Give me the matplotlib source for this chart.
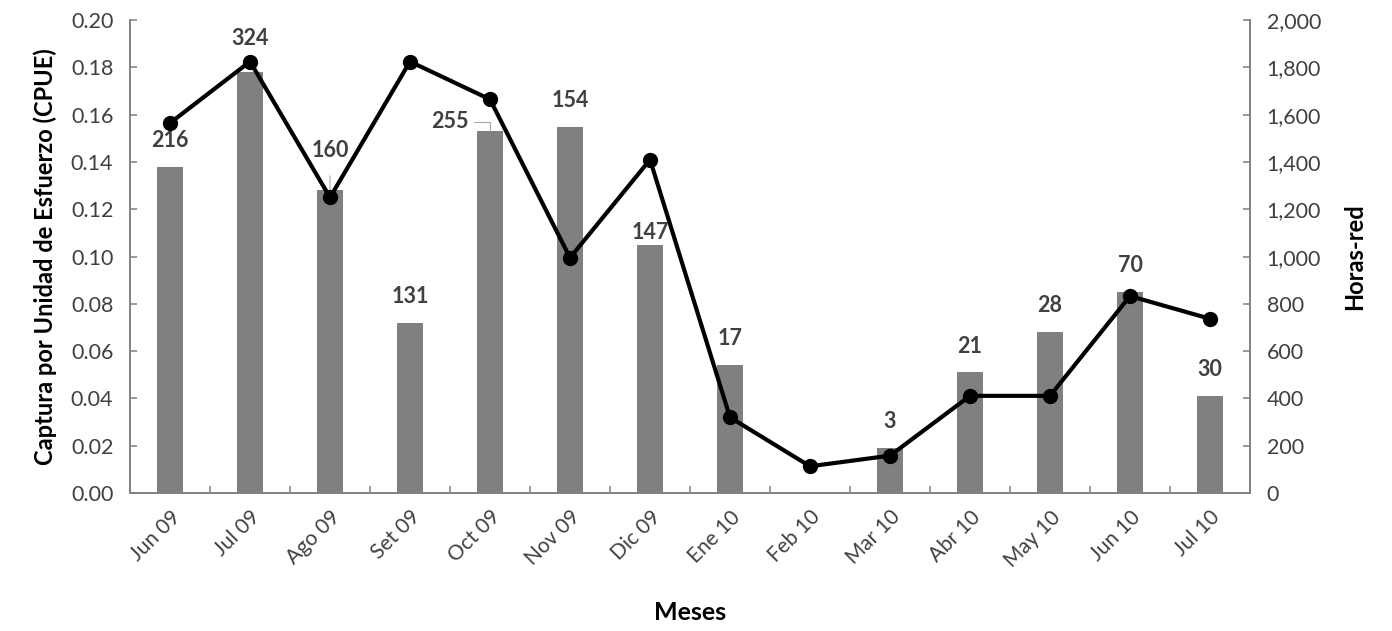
import matplotlib
matplotlib.use("Agg")
import matplotlib.pyplot as plt
from matplotlib.ticker import FuncFormatter, MultipleLocator
import numpy as np

plt.rcParams['font.family'] = ['Lato', 'DejaVu Sans']

# data
meses = ['Jun 09', 'Jul 09', 'Ago 09', 'Set 09', 'Oct 09', 'Nov 09', 'Dic 09',
         'Ene 10', 'Feb 10', 'Mar 10', 'Abr 10', 'May 10', 'Jun 10', 'Jul 10']
cpue = [0.138, 0.178, 0.128, 0.072, 0.153, 0.155, 0.105,
        0.054, 0.0, 0.019, 0.051, 0.068, 0.085, 0.041]
horas_red = [1565, 1825, 1250, 1825, 1665, 995, 1410,
             320, 113, 158, 411, 411, 833, 737]
captura = [216, 324, 160, 131, 255, 154, 147, 17, None, 3, 21, 28, 70, 30]

x = np.arange(len(meses))
grey_txt = '#404040'
spine_c = '#7f7f7f'

fig = plt.figure(figsize=(13.92, 6.31), dpi=100)
ax = fig.add_axes([0.0934, 0.2187, 0.8046, 0.7493])
ax2 = ax.twinx()

ax.bar(x, cpue, width=0.33, color='#808080', zorder=2)
ax2.plot(x, horas_red, color='black', lw=3, marker='o', markersize=10, zorder=3)

# labels above the bars (offsets in points, a few placed by hand)
offsets = {1: (0, 24), 2: (0, 29), 4: (-29, 7), 6: (0, 9)}
lab_kw = dict(textcoords='offset points', ha='center', va='center',
              fontsize=15.5, fontweight='bold', color=grey_txt)
for i, v in enumerate(captura):
    if v is None:
        continue
    dx, dy = offsets.get(i, (0, 19))
    if i == 2:
        ax.annotate(str(v), xy=(x[i], cpue[i]), xytext=(dx, dy),
                    arrowprops=dict(arrowstyle='-', color='#a6a6a6', lw=0.8, shrinkA=9, shrinkB=0),
                    **lab_kw)
    elif i == 4:
        ax.annotate(str(v), xy=(x[i], cpue[i]), xytext=(dx, dy),
                    arrowprops=dict(arrowstyle='-', color='#a6a6a6', lw=0.8, shrinkA=2, shrinkB=0,
                                    connectionstyle='angle,angleA=0,angleB=90,rad=0', relpos=(1.0, 0.5)),
                    **lab_kw)
    else:
        ax.annotate(str(v), xy=(x[i], cpue[i]), xytext=(dx, dy), **lab_kw)

ax.set_xlim(-0.5, len(meses) - 0.5)
ax.set_ylim(0, 0.2)
ax2.set_ylim(0, 2000)
ax.yaxis.set_major_locator(MultipleLocator(0.02))
ax.yaxis.set_major_formatter(FuncFormatter(lambda v, p: f'{v:.2f}'))
ax2.yaxis.set_major_locator(MultipleLocator(200))
ax2.yaxis.set_major_formatter(FuncFormatter(lambda v, p: f'{v:,.0f}'))

ax.set_xticks(x)
ax.set_xticklabels(meses, rotation=45, ha='right', rotation_mode='anchor')
ax.set_xticks(np.arange(-0.5, len(meses)), minor=True)
ax.tick_params(axis='x', which='major', length=0, pad=10, labelsize=15, labelcolor=grey_txt)
ax.tick_params(axis='x', which='minor', direction='in', length=5, color=spine_c, width=1.1)
ax.tick_params(axis='y', direction='in', length=5, color=spine_c, width=1.1,
               labelsize=15.5, labelcolor=grey_txt, pad=12)
ax2.tick_params(axis='y', direction='in', length=5, color=spine_c, width=1.1,
                labelsize=15.5, labelcolor=grey_txt, pad=12)

for a in (ax, ax2):
    a.spines['top'].set_visible(False)
    for s in ('left', 'right', 'bottom'):
        a.spines[s].set_color(spine_c)
        a.spines[s].set_linewidth(1.1)

ax.set_ylabel('Captura por Unidad de Esfuerzo (CPUE)', fontsize=17, fontweight='bold', labelpad=10)
ax2.set_ylabel('Horas-red', fontsize=17, fontweight='bold', labelpad=16)
ax.set_xlabel('Meses', fontsize=18, fontweight='bold', labelpad=22)

fig.savefig('out.png', dpi=100)
